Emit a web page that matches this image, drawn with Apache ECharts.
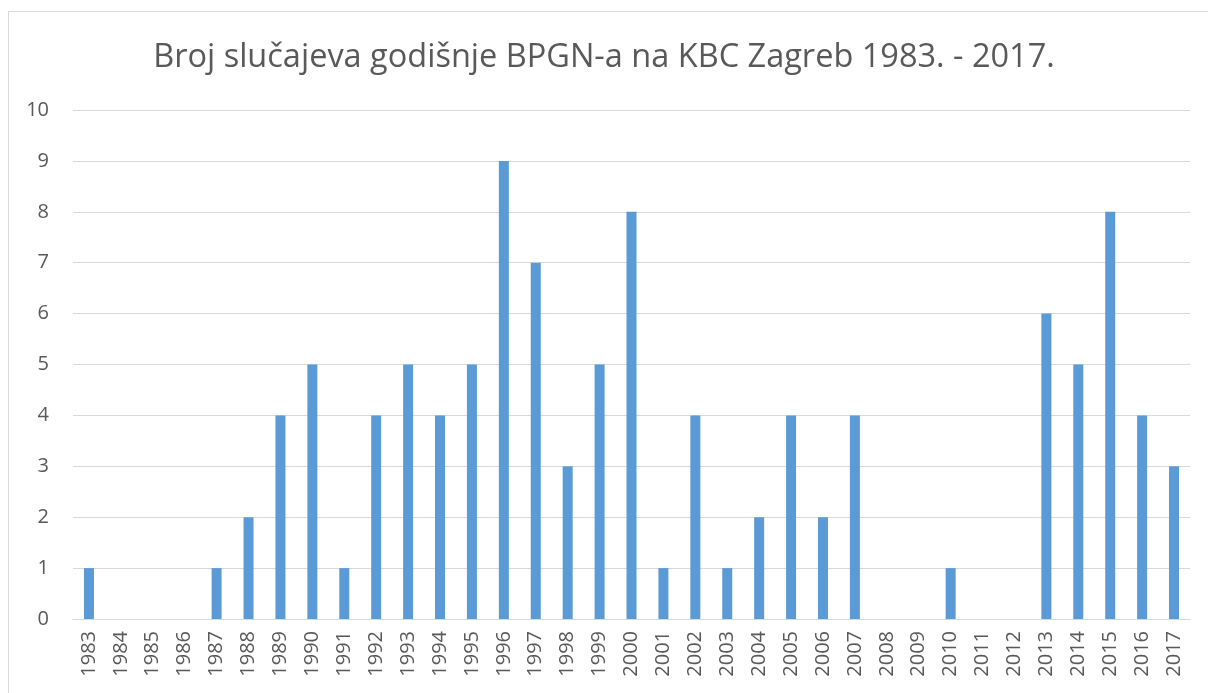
<!DOCTYPE html>
<html>
<head>
<meta charset="utf-8">
<script src="https://cdn.jsdelivr.net/npm/echarts@6/dist/echarts.min.js"></script>
<style>
  html, body { margin: 0; padding: 0; background: #fff; }
  #frame { position: absolute; left: 8px; top: 11px; width: 1250px; height: 750px; border: 1px solid #d9d9d9; }
  #chart { position: absolute; left: 0; top: 0; width: 1208px; height: 693px; }
</style>
</head>
<body>
<div id="frame"></div>
<div id="chart"></div>
<script>
const years = ['1983', '1984', '1985', '1986', '1987', '1988', '1989', '1990', '1991', '1992',
  '1993', '1994', '1995', '1996', '1997', '1998', '1999', '2000', '2001', '2002',
  '2003', '2004', '2005', '2006', '2007', '2008', '2009', '2010', '2011', '2012',
  '2013', '2014', '2015', '2016', '2017']
const cases = [1, 0, 0, 0, 1, 2, 4, 5, 1, 4,
  5, 4, 5, 9, 7, 3, 5, 8, 1, 4,
  1, 2, 4, 2, 4, 0, 0, 1, 0, 0,
  6, 5, 8, 4, 3]

const font = '"Open Sans", "Liberation Sans", sans-serif'

const option = {
  animation: false,
  title: {
    text: 'Broj slučajeva godišnje BPGN-a na KBC Zagreb 1983. - 2017.',
    left: 'center',
    top: 36,
    textStyle: { fontFamily: font, fontSize: 32.5, fontWeight: 'normal', color: '#595959' }
  },
  grid: { left: 73, right: 18, top: 110, bottom: 74 },
  xAxis: {
    type: 'category',
    data: years,
    axisLine: { lineStyle: { color: '#d9d9d9', width: 1 } },
    axisTick: { show: false },
    axisLabel: { rotate: 90, color: '#595959', fontFamily: font, fontSize: 20, margin: 12 }
  },
  yAxis: {
    type: 'value',
    min: 0,
    max: 10,
    interval: 1,
    axisLine: { show: false },
    axisTick: { show: false },
    splitLine: { lineStyle: { color: '#d9d9d9', width: 1 } },
    axisLabel: { color: '#595959', fontFamily: font, fontSize: 20, margin: 24 }
  },
  series: [{
    type: 'bar',
    data: cases,
    barWidth: 10,
    itemStyle: { color: '#5b9bd5' }
  }]
}

echarts.init(document.getElementById('chart')).setOption(option)
</script>
</body>
</html>
